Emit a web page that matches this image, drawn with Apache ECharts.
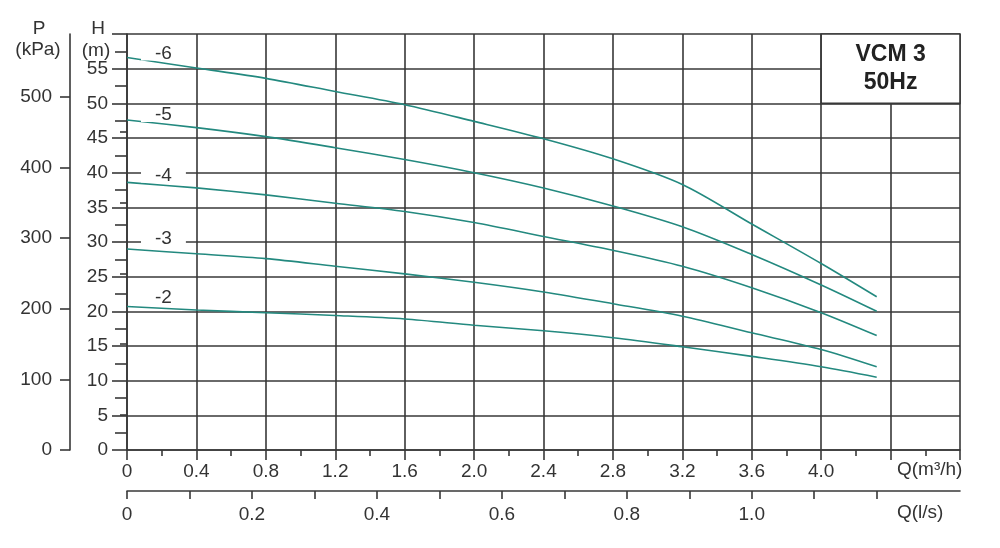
<!DOCTYPE html>
<html><head><meta charset="utf-8">
<script src="https://cdn.jsdelivr.net/npm/echarts@6/dist/echarts.min.js"></script>
<style>html,body{margin:0;padding:0;background:#fff}#c{width:1000px;height:548px}</style>
</head><body><div id="c"></div>
<script>
// ---- data ----
const flowQ  = [0, 0.4, 0.8, 1.2, 1.6, 2.0, 2.4, 2.8, 3.2, 3.6, 4.0, 4.32];   // m3/h
const head6  = [56.6, 55.1, 53.6, 51.7, 49.8, 47.4, 44.9, 42.0, 38.3, 32.6, 26.9, 22.1];
const head5  = [47.6, 46.5, 45.2, 43.6, 41.9, 40.0, 37.8, 35.2, 32.2, 28.2, 23.8, 20.0];
const head4  = [38.6, 37.8, 36.8, 35.6, 34.4, 32.8, 30.8, 28.8, 26.5, 23.4, 19.8, 16.5];
const head3  = [29.0, 28.3, 27.6, 26.5, 25.4, 24.2, 22.8, 21.1, 19.3, 16.9, 14.5, 12.0];
const head2  = [20.7, 20.2, 19.8, 19.4, 18.9, 18.0, 17.2, 16.2, 14.9, 13.5, 12.0, 10.5];
const stageNames = ['-6', '-5', '-4', '-3', '-2'];
const pLabelValues = [0, 100, 200, 300, 400, 500];
const pMinorValues = [50, 150, 250, 350, 450];
const lsTickValues = [0, 0.1, 0.2, 0.3, 0.4, 0.5, 0.6, 0.7, 0.8, 0.9, 1.0, 1.1, 1.2];
const lsLabelValues = [0, 0.2, 0.4, 0.6, 0.8, 1.0];
const titleText = 'VCM 3\n50Hz';
const hUnit = ['H', '(m)'];
const pUnit = ['P', '(kPa)'];
const qUnit1 = 'Q(m³/h)';
const qUnit2 = 'Q(l/s)';

// ---- styling ----
const FONT = '"Liberation Sans", Arial, sans-serif';
const FS = 19;
const INK = '#333';
const GRID = '#383838';
const CURVE = '#23897f';
const LW = 1.6;
const axisLineStyle = { color: GRID, width: LW };
const fmt1 = v => (v === 0 ? '0' : v.toFixed(1));

const heads = [head6, head5, head4, head3, head2];
const labelAnchors = [57.2, 48.3, 39.6, 30.5, 21.9];

const series = heads.map((h, i) => {
  const s = {
    type: 'line',
    name: stageNames[i],
    xAxisIndex: 0,
    yAxisIndex: 0,
    smooth: 0.3,
    symbol: 'none',
    silent: true,
    z: 3,
    lineStyle: { color: CURVE, width: LW },
    data: flowQ.map((q, k) => [q, h[k]]),
    markPoint: {
      silent: true,
      symbol: 'circle',
      symbolSize: 0,
      data: [{ coord: [0.21, labelAnchors[i]] }],
      label: {
        show: true, position: 'inside', formatter: stageNames[i],
        backgroundColor: '#fff', padding: [0, 14, 0, 14], lineHeight: 14,
        fontSize: FS, fontFamily: FONT, color: INK
      }
    }
  };
  if (i === 0) {
    s.markArea = {
      silent: true,
      itemStyle: { color: '#fff', borderColor: GRID, borderWidth: LW },
      label: {
        show: true, position: 'inside', formatter: titleText,
        fontSize: 23, fontWeight: 'bold', fontFamily: FONT, color: '#222', lineHeight: 28
      },
      data: [[{ xAxis: 4.0, yAxis: 60 }, { xAxis: 4.8, yAxis: 50 }]]
    };
  }
  return s;
});

const txt = (x, y, t, align) => ({
  type: 'text', x: x, y: y, silent: true,
  style: { text: t, fill: INK, fontSize: FS, fontFamily: FONT, align: align || 'center', verticalAlign: 'middle' }
});

const option = {
  animation: false,
  backgroundColor: '#fff',
  grid: { left: 127, right: 40, top: 34, bottom: 98, containLabel: false },
  xAxis: [
    {
      type: 'value', min: 0, max: 4.8, interval: 0.4,
      axisLine: { show: true, onZero: false, lineStyle: axisLineStyle },
      axisTick: { show: true, length: 10, lineStyle: axisLineStyle },
      minorTick: { show: true, splitNumber: 2, length: 6, lineStyle: axisLineStyle },
      axisLabel: { margin: 12, fontSize: FS, fontFamily: FONT, color: INK,
        formatter: v => (v > 4.01 ? '' : fmt1(v)) },
      splitLine: { show: true, lineStyle: axisLineStyle }
    },
    {
      type: 'value', min: 0, max: 4.8 / 3.6, position: 'bottom', offset: 41,
      axisLine: { show: true, onZero: false, lineStyle: axisLineStyle },
      axisTick: { show: true, length: 8, lineStyle: axisLineStyle, customValues: lsTickValues },
      axisLabel: { margin: 14, fontSize: FS, fontFamily: FONT, color: INK,
        customValues: lsLabelValues, formatter: fmt1 },
      splitLine: { show: false }
    }
  ],
  yAxis: [
    {
      type: 'value', min: 0, max: 60, interval: 5, position: 'left',
      axisLine: { show: true, onZero: false, lineStyle: axisLineStyle },
      axisTick: { show: true, length: 15, lineStyle: axisLineStyle },
      minorTick: { show: true, splitNumber: 2, length: 12, lineStyle: axisLineStyle },
      axisLabel: { margin: 19, fontSize: FS, fontFamily: FONT, color: INK,
        formatter: v => (v >= 60 ? '' : String(v)) },
      splitLine: { show: true, lineStyle: axisLineStyle }
    },
    {
      type: 'value', min: 0, max: 60 * 9.81, position: 'left', offset: 57,
      axisLine: { show: true, onZero: false, lineStyle: axisLineStyle },
      axisTick: { show: true, length: 10, lineStyle: axisLineStyle, customValues: pLabelValues },
      axisLabel: { margin: 18, fontSize: FS, fontFamily: FONT, color: INK, customValues: pLabelValues },
      splitLine: { show: false }
    },
    {
      type: 'value', min: 0, max: 60 * 9.81, position: 'left', offset: 57,
      axisLine: { show: false },
      axisTick: { show: true, length: 7, lineStyle: axisLineStyle, customValues: pMinorValues },
      axisLabel: { show: false },
      splitLine: { show: false }
    }
  ],
  graphic: [
    txt(39, 29, pUnit[0]), txt(38, 50, pUnit[1]),
    txt(98, 29, hUnit[0]), txt(96, 51, hUnit[1]),
    txt(897, 470, qUnit1, 'left'),
    txt(897, 513, qUnit2, 'left')
  ],
  series: series
};

const chart = echarts.init(document.getElementById('c'), null, { renderer: 'canvas' });
chart.setOption(option);
</script>
</body></html>
